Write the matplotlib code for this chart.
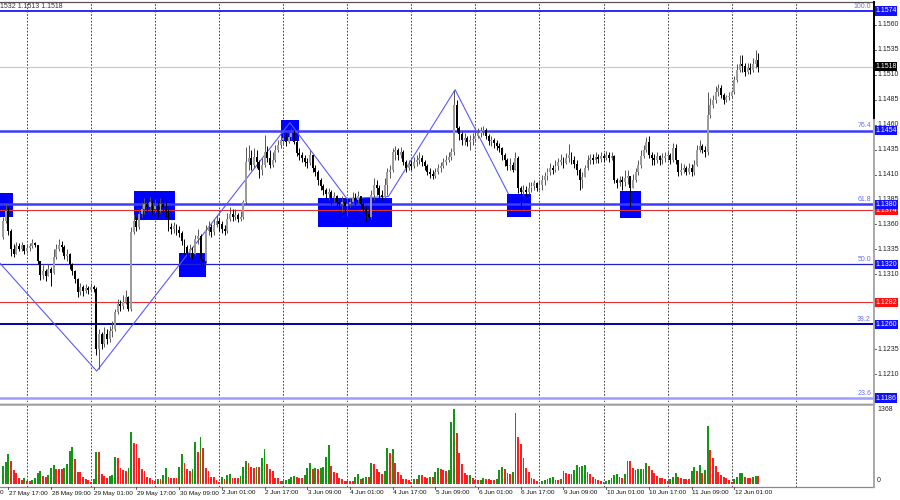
import numpy as np
import matplotlib
matplotlib.use("Agg")
import matplotlib.pyplot as plt
from matplotlib.patches import Rectangle
from matplotlib.lines import Line2D
from matplotlib.transforms import blended_transform_factory

plt.rcParams["font.family"] = ["Liberation Sans", "DejaVu Sans"]

# ---- EURUSD H1, 27 May 15:00 .. 12 Jun 10:00 (one row per trading day) ----
first_open = 1.1347
closes = [
    1.1363, 1.1373, 1.1353, 1.1335, 1.1330, 1.1338, 1.1335, 1.1339, 1.1333,
    1.1336, 1.1338, 1.1341, 1.1339, 1.1323, 1.1309, 1.1313, 1.1308, 1.1315, 1.1311, 1.1327, 1.1335,
    1.1339, 1.1337, 1.1328, 1.1330, 1.1320, 1.1313, 1.1305, 1.1292, 1.1297, 1.1293, 1.1296, 1.1294,
    1.1297, 1.1295, 1.1235, 1.1250, 1.1240, 1.1250, 1.1245, 1.1253, 1.1255, 1.1272, 1.1280, 1.1278,
    1.1282, 1.1287, 1.1275, 1.1352, 1.1363, 1.1357, 1.1370, 1.1375, 1.1380, 1.1377, 1.1382, 1.1375,
    1.1378, 1.1373, 1.1380, 1.1377, 1.1373, 1.1357, 1.1355, 1.1358, 1.1354, 1.1351, 1.1343, 1.1337,
    1.1331, 1.1335, 1.1330, 1.1345, 1.1348, 1.1325, 1.1323, 1.1353, 1.1357, 1.1352, 1.1359, 1.1363,
    1.1360, 1.1355, 1.1353, 1.1365, 1.1370, 1.1367, 1.1369, 1.1365, 1.1367, 1.1382, 1.1423, 1.1427,
    1.1420, 1.1428, 1.1423, 1.1415, 1.1420, 1.1433, 1.1427, 1.1420, 1.1425, 1.1435, 1.1440, 1.1445,
    1.1447, 1.1443, 1.1448, 1.1452, 1.1443, 1.1432, 1.1430, 1.1427, 1.1423, 1.1422, 1.1430, 1.1417,
    1.1413, 1.1405, 1.1399, 1.1395, 1.1391, 1.1393, 1.1387, 1.1389, 1.1382, 1.1380, 1.1383, 1.1378,
    1.1380, 1.1382, 1.1387, 1.1385, 1.1389, 1.1380, 1.1375, 1.1370, 1.1367, 1.1390, 1.1400, 1.1397,
    1.1390, 1.1388, 1.1400, 1.1413, 1.1415, 1.1433, 1.1435, 1.1430, 1.1433, 1.1423, 1.1417, 1.1421,
    1.1419, 1.1423, 1.1425, 1.1427, 1.1423, 1.1419, 1.1413, 1.1411, 1.1409, 1.1413, 1.1417, 1.1419,
    1.1423, 1.1425, 1.1428, 1.1433, 1.1480, 1.1457, 1.1451, 1.1445, 1.1447, 1.1443, 1.1445, 1.1446,
    1.1449, 1.1452, 1.1454, 1.1455, 1.1449, 1.1444, 1.1445, 1.1442, 1.1439, 1.1437, 1.1430, 1.1425,
    1.1419, 1.1420, 1.1415, 1.1427, 1.1397, 1.1393, 1.1395, 1.1393, 1.1397, 1.1399, 1.1402, 1.1397,
    1.1400, 1.1405, 1.1409, 1.1413, 1.1417, 1.1415, 1.1419, 1.1423, 1.1425, 1.1422, 1.1427, 1.1430,
    1.1425, 1.1421, 1.1415, 1.1405, 1.1408, 1.1417, 1.1425, 1.1427, 1.1425, 1.1428, 1.1426, 1.1429,
    1.1427, 1.1430, 1.1427, 1.1429, 1.1405, 1.1402, 1.1405, 1.1403, 1.1407, 1.1409, 1.1397, 1.1405,
    1.1413, 1.1420, 1.1429, 1.1435, 1.1443, 1.1430, 1.1427, 1.1425, 1.1429, 1.1425, 1.1427, 1.1429,
    1.1430, 1.1425, 1.1437, 1.1425, 1.1413, 1.1415, 1.1417, 1.1413, 1.1417, 1.1413, 1.1420, 1.1435,
    1.1439, 1.1435, 1.1433, 1.1470, 1.1480, 1.1485, 1.1493, 1.1497, 1.1490, 1.1485, 1.1488, 1.1489,
    1.1493, 1.1505, 1.1515, 1.1521, 1.1519, 1.1513, 1.1517, 1.1515, 1.1521, 1.1525, 1.1518,
]
highs = [
    1.1367, 1.1381, 1.1377, 1.1355, 1.1340, 1.1342, 1.1341, 1.1342, 1.1339,
    1.1340, 1.1341, 1.1345, 1.1342, 1.1338, 1.1323, 1.1319, 1.1315, 1.1320, 1.1317, 1.1335, 1.1340,
    1.1345, 1.1343, 1.1339, 1.1335, 1.1331, 1.1321, 1.1314, 1.1306, 1.1301, 1.1299, 1.1300, 1.1298,
    1.1301, 1.1299, 1.1297, 1.1255, 1.1252, 1.1257, 1.1255, 1.1258, 1.1263, 1.1275, 1.1285, 1.1284,
    1.1289, 1.1294, 1.1288, 1.1357, 1.1370, 1.1367, 1.1375, 1.1382, 1.1387, 1.1385, 1.1388, 1.1385,
    1.1386, 1.1382, 1.1387, 1.1385, 1.1382, 1.1375, 1.1361, 1.1362, 1.1360, 1.1358, 1.1353, 1.1345,
    1.1339, 1.1340, 1.1337, 1.1349, 1.1355, 1.1350, 1.1330, 1.1359, 1.1363, 1.1360, 1.1365, 1.1369,
    1.1366, 1.1363, 1.1359, 1.1371, 1.1377, 1.1375, 1.1375, 1.1371, 1.1373, 1.1385, 1.1438, 1.1440,
    1.1435, 1.1437, 1.1435, 1.1425, 1.1427, 1.1450, 1.1439, 1.1435, 1.1433, 1.1440, 1.1445, 1.1450,
    1.1453, 1.1452, 1.1455, 1.1457, 1.1455, 1.1445, 1.1437, 1.1433, 1.1430, 1.1427, 1.1435, 1.1430,
    1.1420, 1.1415, 1.1407, 1.1401, 1.1397, 1.1397, 1.1395, 1.1393, 1.1390, 1.1387, 1.1389, 1.1385,
    1.1387, 1.1387, 1.1393, 1.1392, 1.1394, 1.1389, 1.1382, 1.1378, 1.1375, 1.1395, 1.1407, 1.1405,
    1.1400, 1.1395, 1.1407, 1.1417, 1.1420, 1.1437, 1.1439, 1.1437, 1.1438, 1.1435, 1.1425, 1.1425,
    1.1425, 1.1428, 1.1430, 1.1433, 1.1430, 1.1425, 1.1421, 1.1417, 1.1415, 1.1417, 1.1421, 1.1423,
    1.1427, 1.1430, 1.1433, 1.1437, 1.1495, 1.1485, 1.1459, 1.1453, 1.1452, 1.1449, 1.1450, 1.1452,
    1.1453, 1.1457, 1.1458, 1.1459, 1.1457, 1.1451, 1.1449, 1.1447, 1.1445, 1.1442, 1.1438, 1.1432,
    1.1427, 1.1427, 1.1423, 1.1433, 1.1429, 1.1399, 1.1400, 1.1399, 1.1403, 1.1403, 1.1405, 1.1403,
    1.1405, 1.1410, 1.1413, 1.1417, 1.1422, 1.1420, 1.1425, 1.1427, 1.1431, 1.1428, 1.1432, 1.1441,
    1.1433, 1.1429, 1.1425, 1.1417, 1.1413, 1.1420, 1.1430, 1.1431, 1.1431, 1.1433, 1.1431, 1.1433,
    1.1432, 1.1434, 1.1433, 1.1433, 1.1430, 1.1407, 1.1409, 1.1409, 1.1415, 1.1415, 1.1407, 1.1411,
    1.1417, 1.1425, 1.1435, 1.1440, 1.1448, 1.1449, 1.1433, 1.1431, 1.1433, 1.1430, 1.1432, 1.1433,
    1.1435, 1.1432, 1.1442, 1.1441, 1.1425, 1.1422, 1.1421, 1.1419, 1.1422, 1.1421, 1.1425, 1.1440,
    1.1445, 1.1441, 1.1439, 1.1493, 1.1487, 1.1490, 1.1499, 1.1501, 1.1500, 1.1492, 1.1490, 1.1493,
    1.1495, 1.1509, 1.1521, 1.1530, 1.1530, 1.1522, 1.1522, 1.1522, 1.1527, 1.1535, 1.1532,
]
lows = [
    1.1345, 1.1361, 1.1349, 1.1328, 1.1327, 1.1331, 1.1333, 1.1333, 1.1330,
    1.1331, 1.1333, 1.1336, 1.1337, 1.1320, 1.1304, 1.1305, 1.1303, 1.1309, 1.1298, 1.1310, 1.1325,
    1.1333, 1.1332, 1.1325, 1.1323, 1.1315, 1.1309, 1.1301, 1.1287, 1.1289, 1.1288, 1.1291, 1.1290,
    1.1293, 1.1292, 1.1229, 1.1215, 1.1235, 1.1237, 1.1240, 1.1242, 1.1247, 1.1253, 1.1270, 1.1273,
    1.1275, 1.1280, 1.1273, 1.1273, 1.1350, 1.1353, 1.1355, 1.1367, 1.1370, 1.1371, 1.1373, 1.1369,
    1.1371, 1.1367, 1.1371, 1.1370, 1.1367, 1.1353, 1.1350, 1.1351, 1.1349, 1.1347, 1.1339, 1.1330,
    1.1325, 1.1327, 1.1325, 1.1329, 1.1340, 1.1318, 1.1317, 1.1321, 1.1349, 1.1347, 1.1349, 1.1357,
    1.1353, 1.1351, 1.1349, 1.1351, 1.1363, 1.1363, 1.1364, 1.1362, 1.1363, 1.1365, 1.1380, 1.1415,
    1.1415, 1.1417, 1.1417, 1.1407, 1.1410, 1.1418, 1.1423, 1.1417, 1.1418, 1.1423, 1.1433, 1.1437,
    1.1440, 1.1439, 1.1442, 1.1445, 1.1441, 1.1429, 1.1425, 1.1423, 1.1419, 1.1417, 1.1420, 1.1413,
    1.1409, 1.1400, 1.1395, 1.1390, 1.1387, 1.1385, 1.1380, 1.1382, 1.1378, 1.1375, 1.1372, 1.1370,
    1.1368, 1.1377, 1.1380, 1.1379, 1.1381, 1.1375, 1.1370, 1.1363, 1.1360, 1.1365, 1.1385, 1.1390,
    1.1385, 1.1385, 1.1387, 1.1390, 1.1407, 1.1413, 1.1425, 1.1425, 1.1427, 1.1420, 1.1413, 1.1415,
    1.1415, 1.1417, 1.1419, 1.1421, 1.1419, 1.1415, 1.1410, 1.1407, 1.1406, 1.1407, 1.1411, 1.1413,
    1.1417, 1.1420, 1.1423, 1.1425, 1.1430, 1.1453, 1.1445, 1.1440, 1.1440, 1.1439, 1.1435, 1.1440,
    1.1443, 1.1447, 1.1448, 1.1450, 1.1446, 1.1440, 1.1439, 1.1437, 1.1435, 1.1433, 1.1425, 1.1419,
    1.1415, 1.1415, 1.1413, 1.1415, 1.1392, 1.1375, 1.1389, 1.1389, 1.1391, 1.1393, 1.1395, 1.1394,
    1.1395, 1.1395, 1.1400, 1.1405, 1.1410, 1.1411, 1.1413, 1.1415, 1.1420, 1.1417, 1.1421, 1.1423,
    1.1421, 1.1417, 1.1410, 1.1395, 1.1397, 1.1409, 1.1415, 1.1421, 1.1421, 1.1422, 1.1422, 1.1423,
    1.1423, 1.1425, 1.1423, 1.1425, 1.1402, 1.1397, 1.1399, 1.1395, 1.1399, 1.1401, 1.1377, 1.1397,
    1.1403, 1.1410, 1.1417, 1.1427, 1.1433, 1.1427, 1.1420, 1.1420, 1.1422, 1.1420, 1.1421, 1.1423,
    1.1425, 1.1421, 1.1423, 1.1421, 1.1409, 1.1410, 1.1412, 1.1410, 1.1411, 1.1409, 1.1410, 1.1419,
    1.1433, 1.1432, 1.1428, 1.1430, 1.1467, 1.1477, 1.1482, 1.1489, 1.1487, 1.1481, 1.1483, 1.1485,
    1.1487, 1.1491, 1.1503, 1.1513, 1.1513, 1.1509, 1.1511, 1.1511, 1.1513, 1.1517, 1.1513,
]
volumes = [
    328, 407, 541, 426, 255, 207, 103, 73, 103,
    61, 61, 73, 103, 207, 237, 146, 122, 164, 292, 353, 280, 268, 268, 298, 365, 608, 681, 450, 219, 219, 122, 91, 73,
    43, 91, 578, 578, 182, 146, 103, 146, 164, 499, 468, 286, 255, 243, 286, 948, 742, 724, 468, 268, 243, 122, 103, 73,
    61, 85, 85, 164, 286, 122, 116, 116, 116, 304, 547, 389, 268, 243, 274, 772, 584, 863, 651, 298, 237, 122, 122, 73,
    43, 122, 91, 164, 176, 103, 103, 103, 146, 304, 426, 377, 316, 286, 304, 304, 468, 632, 365, 268, 243, 103, 103, 55,
    61, 73, 97, 122, 146, 134, 116, 103, 164, 286, 377, 268, 292, 274, 292, 304, 486, 711, 328, 225, 207, 103, 85, 61,
    61, 61, 61, 122, 182, 91, 116, 134, 134, 389, 365, 268, 225, 182, 231, 651, 559, 638, 389, 225, 164, 85, 85, 73,
    43, 85, 85, 158, 158, 122, 103, 134, 122, 225, 286, 274, 249, 243, 255, 1125, 1368, 924, 572, 359, 207, 158, 164, 103,
    73, 67, 73, 103, 91, 85, 73, 73, 85, 255, 316, 268, 207, 182, 225, 1301, 851, 730, 468, 286, 225, 103, 85, 61,
    43, 61, 73, 85, 116, 122, 73, 73, 85, 237, 207, 182, 182, 255, 347, 316, 328, 347, 225, 182, 122, 85, 73, 61,
    43, 61, 73, 103, 164, 176, 122, 103, 182, 426, 420, 292, 255, 268, 280, 268, 389, 328, 255, 195, 146, 103, 103, 85,
    61, 85, 122, 195, 122, 109, 85, 85, 85, 237, 316, 243, 347, 207, 255, 1064, 620, 468, 328, 225, 164, 134, 103, 73,
    43, 85, 134, 195, 207, 134, 103, 103, 134, 146, 146,
]

time_labels = ["27 May 17:00", "28 May 09:00", "29 May 01:00", "29 May 17:00", "30 May 09:00",
               "2 Jun 01:00", "2 Jun 17:00", "3 Jun 09:00", "4 Jun 01:00", "4 Jun 17:00",
               "5 Jun 09:00", "6 Jun 01:00", "6 Jun 17:00", "9 Jun 09:00", "10 Jun 01:00",
               "10 Jun 17:00", "11 Jun 09:00", "12 Jun 01:00"]
cut_label = "27 May 01:00"   # partly scrolled off the left edge
price_ticks = [1.1560, 1.1535, 1.1510, 1.1485, 1.1460, 1.1435, 1.1410, 1.1385, 1.1360,
               1.1335, 1.1310, 1.1285, 1.1260, 1.1235, 1.1210, 1.1185]
fib_prices = [1.1574, 1.1454, 1.1380, 1.1320, 1.1260, 1.1186]
fib_names = ["100.0", "76.4", "61.8", "50.0", "38.2", "23.6"]
red_prices = [1.1374, 1.1282]
bid_price = 1.1518
vol_max = 1368

# highlighted zones: (first bar, last bar, top price, bottom price)
zones = [(-1.1, 3.7, 1.1392, 1.1367), (49.1, 64.3, 1.1394, 1.1364),
         (65.9, 76.1, 1.1331, 1.1307), (104.0, 111.0, 1.1465, 1.1444),
         (118.0, 145.9, 1.1387, 1.1357), (189.0, 197.8, 1.1391, 1.1367),
         (231.0, 239.0, 1.1394, 1.1366)]
zig_bars = [-1.1, 35.1, 107.5, 128.8, 144.4, 169.4, 189.3]
zig_prices = [1.1321, 1.1213, 1.1462, 1.1386, 1.1388, 1.1495, 1.1391]

# ---- layout (pixel based, 900x500) ----
W, H = 900, 500
X_AX = 873          # right edge of plotting area
BAR_PX = 2.669      # px per hourly bar
X0 = 3              # px of bar 0

def fx(x):
    return x / W

def fy(y):
    return 1 - y / H

fig = plt.figure(figsize=(9, 5), dpi=100)
fig.patch.set_facecolor("white")
ax = fig.add_axes([0, fy(402), fx(X_AX), 400 / H])
vax = fig.add_axes([0, fy(487), fx(X_AX), 82 / H])
xlim = (-X0 / BAR_PX, (X_AX - X0) / BAR_PX)
for a in (ax, vax):
    a.set_xlim(*xlim)
    a.set_xticks([]); a.set_yticks([])
    for s in a.spines.values():
        s.set_visible(False)
ax.set_ylim(1.1182, 1.1583)
vax.set_ylim(-55, 1441)

# grid (daily separators)
for b in range(9, 298, 24):
    for a in (ax, vax):
        a.axvline(b, color="#222222", lw=0.6, ls=(0, (2, 2)), zorder=0.5)

# zones
for b0, b1, ptop, pbot in zones:
    ax.add_patch(Rectangle((b0, pbot), b1 - b0, ptop - pbot, fc="#0000ff",
                           ec="none", zorder=1))

# levels
fib_colors = ["#2a2aff", "#3c3cff", "#3c3cff", "#2020cc", "#0000a8", "#9d9dff"]
fib_widths = [1.4, 1.8, 1.8, 0.9, 1.4, 1.8]
for p, col, lw in zip(fib_prices, fib_colors, fib_widths):
    ax.axhline(p, color=col, lw=lw, zorder=1.5)
for p in red_prices:
    ax.axhline(p, color="#e83030", lw=0.8, zorder=1.5)
ax.axhline(bid_price, color="#c8c8c8", lw=0.8, zorder=1.2)
ax.plot(zig_bars, zig_prices, color="#5a5aff", lw=0.8, zorder=2)

# candles
c = np.array(closes); h = np.array(highs); l = np.array(lows)
o = np.r_[first_open, c[:-1]]
idx = np.arange(len(c))
up = c >= o
top = np.maximum(h, np.maximum(o, c))
bot = np.minimum(l, np.minimum(o, c))
body_lo = np.minimum(o, c)
body_h = np.maximum(np.abs(c - o), 0.00006)
ax.vlines(idx[up], bot[up], top[up], color="#555555", lw=0.7, zorder=3)
ax.vlines(idx[~up], bot[~up], top[~up], color="#000000", lw=0.7, zorder=3)
ax.bar(idx[up], body_h[up], bottom=body_lo[up], width=0.72, color="#9c9c9c", zorder=4)
ax.bar(idx[~up], body_h[~up], bottom=body_lo[~up], width=0.72, color="#000000", zorder=4)

# volumes (green when rising vs previous bar)
v = np.array(volumes)
rise = np.r_[True, v[1:] > v[:-1]]
vax.bar(idx[rise], v[rise], width=0.7, color="#139613", zorder=3)
vax.bar(idx[~rise], v[~rise], width=0.7, color="#ff1e1e", zorder=3)

# ---- right price scale ----
tr = blended_transform_factory(fig.transFigure, ax.transData)
tags = fib_prices + red_prices + [bid_price]
for p in price_ticks:
    ax.add_line(Line2D([fx(X_AX), fx(876)], [p, p], transform=tr, color="#444444",
                       lw=0.6, clip_on=False))
    if min(abs(p - t) for t in tags) < 0.00045:
        continue   # hidden behind a coloured price tag
    ax.text(fx(877), p, f"{p:.4f}", transform=tr, fontsize=5, va="center",
            ha="left", color="#222222", clip_on=False)

def tag(p, fc, z):
    ax.text(fx(875), p, f"{p:.4f}", transform=tr, fontsize=5, va="center",
            ha="left", color="white", zorder=z, clip_on=False,
            bbox=dict(boxstyle="square,pad=0.15", fc=fc, ec="none"))

for p in red_prices:
    tag(p, "#ff1010", 10)
for p in fib_prices:
    tag(p, "#1010ff", 11)
tag(bid_price, "#000000", 11)

for p, name in zip(fib_prices, fib_names):
    ax.text(fx(871), p + 0.00012, name, transform=tr, fontsize=5, va="bottom",
            ha="right", color="#6b6bff", zorder=6)

vtr = blended_transform_factory(fig.transFigure, vax.transData)
vax.text(fx(877), vol_max, str(vol_max), transform=vtr, fontsize=5, va="center",
         ha="left", color="#222222", clip_on=False)
vax.text(fx(877), 55, "0", transform=vtr, fontsize=5, va="center", ha="left",
         color="#222222", clip_on=False)

# frame lines
def fline(x0, y0, x1, y1, color, lw):
    fig.add_artist(Line2D([fx(x0), fx(x1)], [fy(y0), fy(y1)], color=color, lw=lw))

fline(0, 2, X_AX, 2, "#555555", 0.9)
fline(0, 403.5, X_AX + 1, 403.5, "#555555", 1.0)
fline(0, 405, X_AX + 1, 405, "#b0b0b0", 1.2)
fline(0, 487, X_AX + 1, 487, "#8a8a8a", 0.9)
fline(X_AX + 0.5, 2, X_AX + 0.5, 487, "#a8a8a8", 1.4)
fline(X_AX + 0.5, 2, X_AX + 0.5, 118, "#000000", 1.4)

# time axis: a label every 16 bars, first one scrolled partly off-screen
for k, lab in enumerate([cut_label] + time_labels):
    b = -14 + 16 * k
    xp = X0 + BAR_PX * b
    if k == 0:
        # only the trailing "0" of the scrolled-off label is visible
        fig.text(fx(0), fy(493), lab[-1], fontsize=4.6, ha="left", va="center",
                 color="#111111")
        continue
    fig.text(fx(xp + 0.5), fy(493), lab, fontsize=4.6, ha="left", va="center",
             color="#111111")
    fline(xp, 487, xp, 489, "#444444", 0.6)

fig.text(0, fy(6), "1532 1.1513 1.1518", fontsize=5, ha="left", va="center",
         color="#333333")

fig.savefig("out.png", dpi=100, facecolor="white")
